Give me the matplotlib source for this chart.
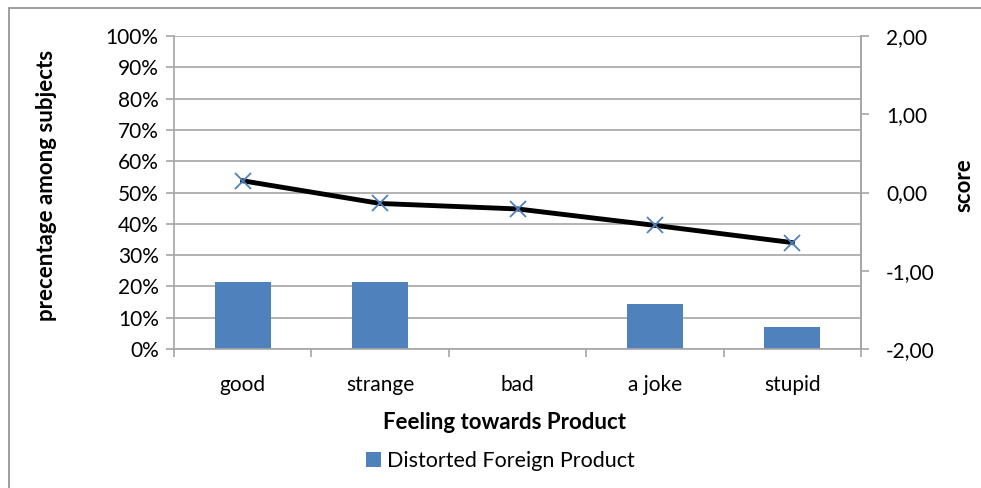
import matplotlib.pyplot as plt
import numpy as np
from matplotlib.patches import Rectangle

plt.rcParams['font.family'] = ['Lato', 'DejaVu Sans']

feelings = ["good", "strange", "bad", "a joke", "stupid"]
share = [3 / 14, 3 / 14, 0.0, 2 / 14, 1 / 14]
score = [0.15, -0.14, -0.21, -0.42, -0.64]

grid_col = "#a6a6a6"
bar_col = "#4f81bd"

fig = plt.figure(figsize=(9.81, 4.88), dpi=100)
ax = fig.add_axes([0.1774, 0.2848, 0.7003, 0.6414])

x = np.arange(len(feelings))
ax.bar(x, share, width=0.41, color=bar_col, label="Distorted Foreign Product", zorder=2)
ax.set_xlim(-0.5, len(feelings) - 0.5)
ax.set_ylim(0, 1)
ax.set_yticks(np.linspace(0, 1, 11))
ax.set_yticklabels([f"{int(round(v * 100))}%" for v in np.linspace(0, 1, 11)])
ax.yaxis.grid(True, color=grid_col, linewidth=1.2, zorder=0)
ax.set_axisbelow(True)

# category ticks sit between the groups
ax.set_xticks(np.arange(-0.5, len(feelings), 1.0))
ax.set_xticklabels([])
ax.set_xticks(x, minor=True)
ax.set_xticklabels(feelings, minor=True)
ax.tick_params(axis="x", which="minor", length=0, pad=19, labelsize=15)
ax.tick_params(axis="x", which="major", length=6, color=grid_col, width=1.2)
ax.tick_params(axis="y", length=6, color=grid_col, width=1.2, labelsize=15, pad=5)

ax.spines["top"].set_visible(False)
for side in ["left", "bottom", "right"]:
    ax.spines[side].set_color(grid_col)
    ax.spines[side].set_linewidth(1.2)

ax2 = ax.twinx()
ax2.plot(x, score, color="black", linewidth=3.5, marker="x", markersize=12,
         markeredgecolor="#4f81bd", markeredgewidth=1.3, zorder=3)
ax2.set_ylim(-2, 2)
ax2.set_yticks([2, 1, 0, -1, -2])
ax2.set_yticklabels(["2,00", "1,00", "0,00", "-1,00", "-2,00"])
ax2.tick_params(axis="y", length=6, color=grid_col, width=1.2, labelsize=15, pad=12)
ax2.spines["top"].set_visible(False)
ax2.spines["left"].set_visible(False)
ax2.spines["bottom"].set_visible(False)
ax2.spines["right"].set_color(grid_col)
ax2.spines["right"].set_linewidth(1.2)

fig.text(0.047, 0.62, "precentage among subjects", rotation=90, ha="center", va="center",
         fontsize=16, fontweight="bold")
fig.text(0.983, 0.62, "score", rotation=90, ha="center", va="center",
         fontsize=16, fontweight="bold")
fig.text(0.514, 0.135, "Feeling towards Product", ha="center", va="center",
         fontsize=16, fontweight="bold")

handles, labels = ax.get_legend_handles_labels()
fig.legend(handles, labels, loc="center", bbox_to_anchor=(0.51, 0.055), frameon=False,
           fontsize=15.5, handlelength=0.7, handleheight=0.7, handletextpad=0.3)

# outer chart frame
fig.patches.append(Rectangle((9 / 981, -0.01), 1.0, 1 - 8 / 488 + 0.01, transform=fig.transFigure,
                             fill=False, edgecolor="#8c8c8c", linewidth=1.2))

fig.savefig("out.png", dpi=100)
